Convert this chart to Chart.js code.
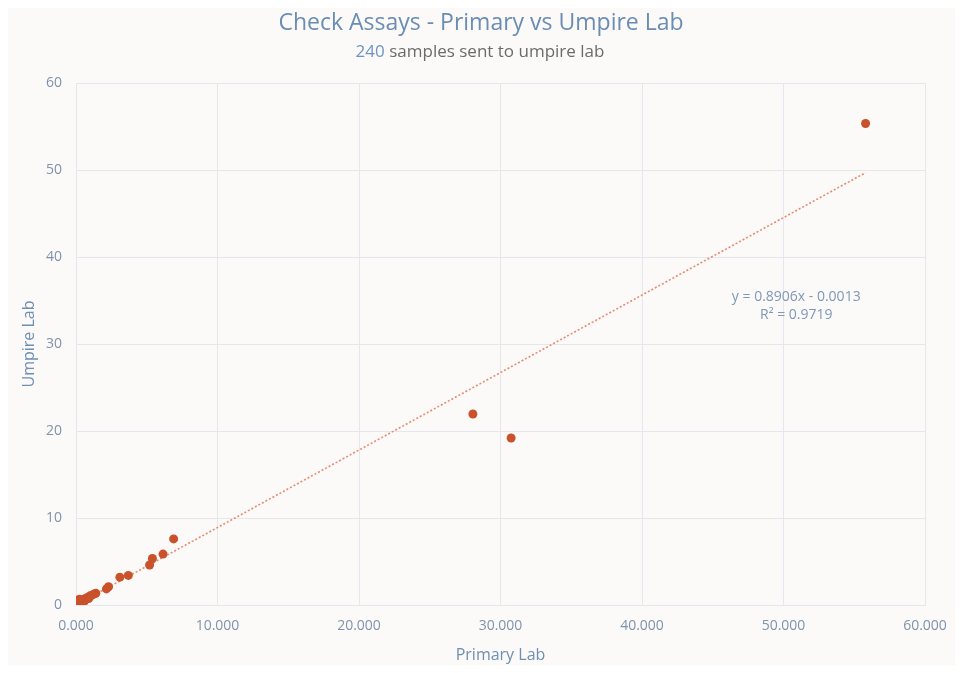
<!DOCTYPE html>
<html>
<head>
<meta charset="utf-8">
<script src="https://cdn.jsdelivr.net/npm/chart.js@4"></script>
<style>
  html, body { margin: 0; padding: 0; background: #ffffff; }
  #wrap { width: 963px; height: 673px; }
</style>
</head>
<body>
<div id="wrap"><canvas id="graficoCheck" width="963" height="673"></canvas></div>
<script>
// --- dados ---
const primaryLab = [55.8, 28.05, 30.75, 6.9, 6.15, 5.4, 5.2, 3.7, 3.1, 2.3, 2.15, 1.4, 1.25, 1.1, 1.0, 0.85, 0.75, 0.6, 0.5, 0.4, 0.3, 0.2, 0.15, 0.1, 0.05, 0.02, 0.3, 0.6, 0.9, 0.1, 0.25];
const umpireLab  = [55.35, 21.95, 19.2, 7.6, 5.85, 5.35, 4.6, 3.4, 3.2, 2.1, 1.85, 1.35, 1.25, 1.1, 1.05, 0.9, 0.8, 0.7, 0.6, 0.55, 0.45, 0.5, 0.35, 0.25, 0.15, 0.05, 0.2, 0.45, 0.75, 0.55, 0.65];

// linha de tendência (equação mostrada no gráfico)
const trendSlope = 0.8906;
const trendIntercept = -0.0013;
const trendRangeX = [0, 55.8];
const trendLabel = ["y = 0.8906x - 0.0013", "R² = 0.9719"];

const xTicks = [0, 10, 20, 30, 40, 50, 60];
const yTicks = [0, 10, 20, 30, 40, 50, 60];

const tituloTexto = "Check Assays - Primary vs Umpire Lab";
const subtituloNumero = "240";
const subtituloResto = " samples sent to umpire lab";

const FONTE = "'Open Sans', 'Noto Sans', sans-serif";

// fundo do painel + títulos + equação
const painelPlugin = {
  id: 'painel',
  beforeDraw(chart) {
    const ctx = chart.ctx;
    ctx.save();
    ctx.fillStyle = '#fbfaf9';
    ctx.fillRect(8, 8, chart.width - 16, chart.height - 16);
    ctx.restore();
  },
  afterDraw(chart) {
    const ctx = chart.ctx;
    ctx.save();
    ctx.textAlign = 'center';
    ctx.textBaseline = 'middle';
    // título
    ctx.font = '23px ' + FONTE;
    ctx.fillStyle = '#6a8db3';
    ctx.fillText(tituloTexto, 481, 23);
    // subtítulo em duas cores
    ctx.font = '17px ' + FONTE;
    const w1 = ctx.measureText(subtituloNumero).width;
    const w2 = ctx.measureText(subtituloResto).width;
    let x0 = 480 - (w1 + w2) / 2;
    ctx.textAlign = 'left';
    ctx.fillStyle = '#6d95c0';
    ctx.fillText(subtituloNumero, x0, 52);
    ctx.fillStyle = '#6b6b6b';
    ctx.fillText(subtituloResto, x0 + w1, 52);
    // equação da tendência
    const sx = chart.scales.x, sy = chart.scales.y;
    ctx.textAlign = 'center';
    ctx.font = '14px ' + FONTE;
    ctx.fillStyle = '#7f98b6';
    ctx.fillText(trendLabel[0], sx.getPixelForValue(50.9), sy.getPixelForValue(35.4));
    ctx.fillText(trendLabel[1], sx.getPixelForValue(50.9), sy.getPixelForValue(33.3));
    ctx.restore();
  }
};

const corGrid = '#e4e8ee';
const corTick = '#7f93ab';

new Chart(document.getElementById('graficoCheck'), {
  type: 'scatter',
  data: {
    datasets: [
      {
        label: 'Trend',
        data: trendRangeX.map(x => ({ x: x, y: trendSlope * x + trendIntercept })),
        showLine: true,
        borderColor: '#e68c6e',
        borderWidth: 1.6,
        borderDash: [2, 2],
        pointRadius: 0,
        order: 2
      },
      {
        label: 'Samples',
        data: primaryLab.map((x, i) => ({ x: x, y: umpireLab[i] })),
        backgroundColor: '#c9522b',
        borderWidth: 0,
        pointRadius: 4.5,
        order: 1
      }
    ]
  },
  options: {
    responsive: false,
    animation: false,
    layout: { padding: { top: 83, left: 8, right: 38, bottom: 8 } },
    plugins: {
      legend: { display: false },
      tooltip: { enabled: false }
    },
    scales: {
      x: {
        type: 'linear',
        min: xTicks[0],
        max: xTicks[xTicks.length - 1],
        afterBuildTicks: s => { s.ticks = xTicks.map(v => ({ value: v })); },
        afterFit: s => { s.height = 60; },
        grid: { color: corGrid, drawTicks: false },
        border: { color: corGrid },
        ticks: {
          padding: 13,
          color: corTick,
          font: { family: FONTE, size: 14 },
          callback: v => v.toFixed(3)
        },
        title: {
          display: true,
          text: 'Primary Lab',
          color: '#6f8fb3',
          font: { family: FONTE, size: 16 },
          padding: { top: 0, bottom: 0 }
        }
      },
      y: {
        type: 'linear',
        min: yTicks[0],
        max: yTicks[yTicks.length - 1],
        afterBuildTicks: s => { s.ticks = yTicks.map(v => ({ value: v })); },
        afterFit: s => { s.width = 68; },
        grid: { color: corGrid, drawTicks: false },
        border: { color: corGrid },
        ticks: {
          padding: 14,
          color: corTick,
          font: { family: FONTE, size: 14 }
        },
        title: {
          display: true,
          text: 'Umpire Lab',
          color: '#6f8fb3',
          font: { family: FONTE, size: 16 },
          padding: { top: 12, bottom: 0 }
        }
      }
    }
  },
  plugins: [painelPlugin]
});
</script>
</body>
</html>
